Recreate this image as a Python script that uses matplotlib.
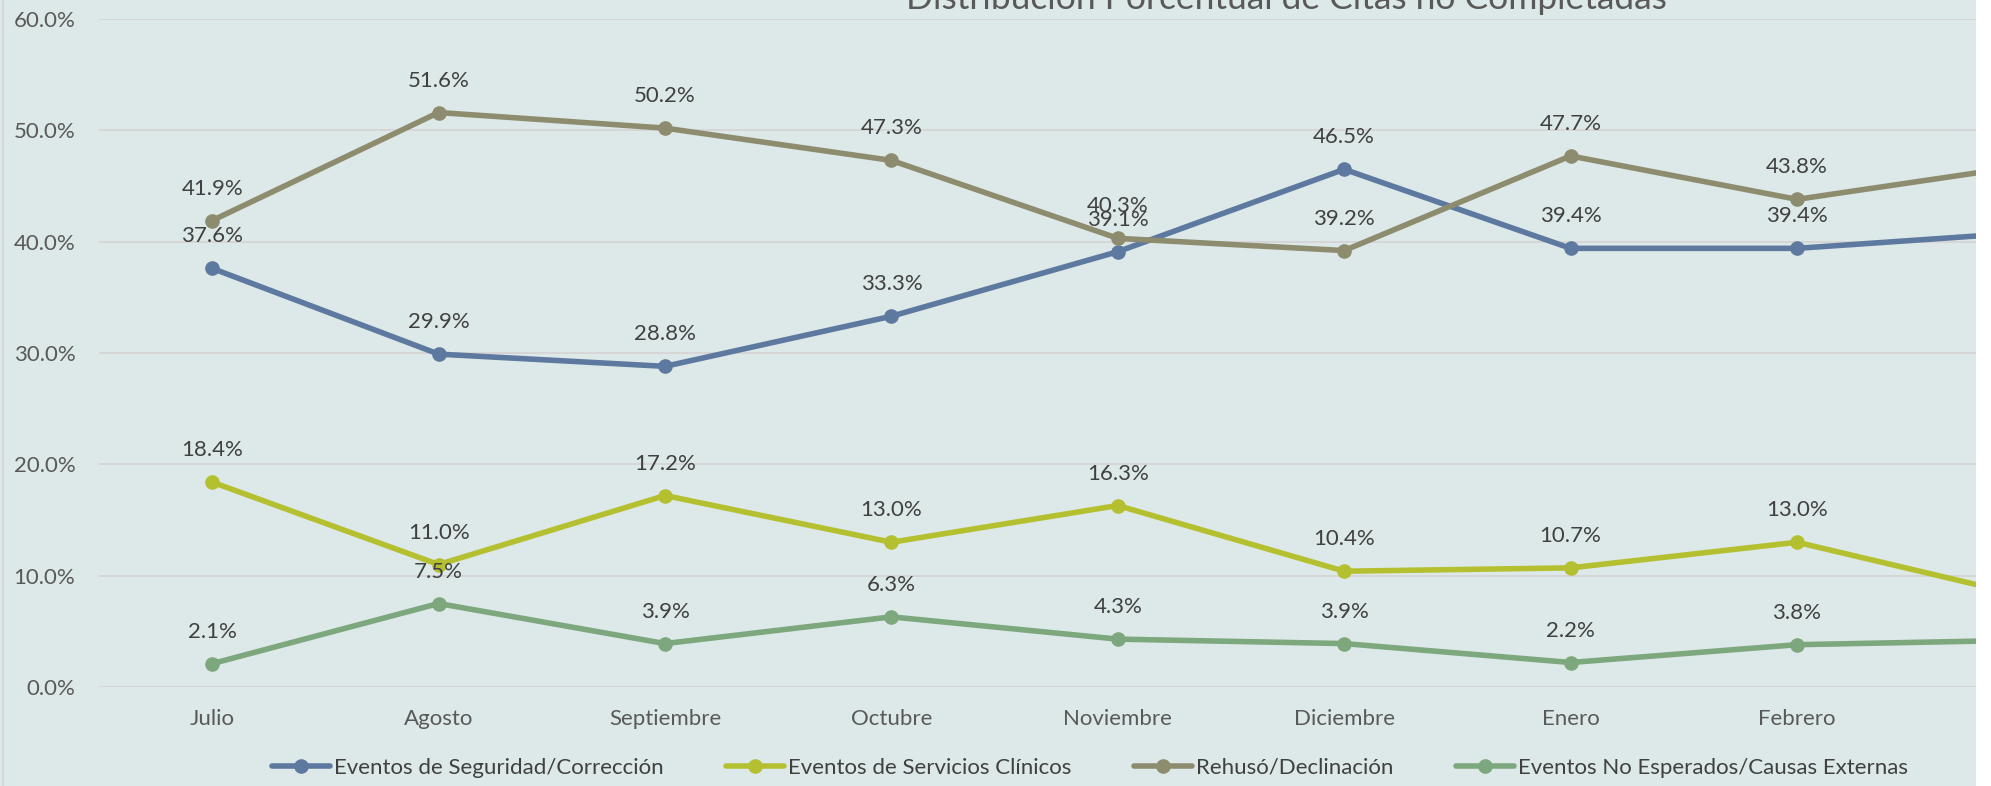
import matplotlib
matplotlib.use("Agg")
import matplotlib.pyplot as plt
from matplotlib.patches import Rectangle
from matplotlib.lines import Line2D

months = ["Julio", "Agosto", "Septiembre", "Octubre", "Noviembre",
          "Diciembre", "Enero", "Febrero", "Marzo"]
seguridad = [37.6, 29.9, 28.8, 33.3, 39.1, 46.5, 39.4, 39.4, 40.8]
servicios = [18.4, 11.0, 17.2, 13.0, 16.3, 10.4, 10.7, 13.0, 8.2]
rehuso = [41.9, 51.6, 50.2, 47.3, 40.3, 39.2, 47.7, 43.8, 46.8]
externas = [2.1, 7.5, 3.9, 6.3, 4.3, 3.9, 2.2, 3.8, 4.2]
series_names = ["Eventos de Seguridad/Corrección", "Eventos de Servicios Clínicos",
                "Rehusó/Declinación", "Eventos No Esperados/Causas Externas"]
yticks = [0, 10, 20, 30, 40, 50, 60]
title = "Distribución Porcentual de Citas no Completadas"

colors = ["#5E79A0", "#B5C030", "#8E8C6E", "#7DA77D"]
BG = "#DCE9E8"
W, H = 1991, 786
FS = 16

plt.rcParams["font.family"] = ["Lato", "DejaVu Sans"]

fig = plt.figure(figsize=(W / 100, H / 100), dpi=100, facecolor="white")

# chart area background
fig.patches.append(Rectangle((0, 0), 1976 / W, 1, transform=fig.transFigure,
                             facecolor=BG, edgecolor="none", zorder=-10))
fig.lines.append(Line2D([3 / W, 3 / W], [0, 1], transform=fig.transFigure,
                        color="#D5D8D8", lw=1.5, zorder=-5))

left = 99 / W
right = (99 + 9 * 226.4) / W
bottom = (H - 687) / H
top = (H - 19) / H
ax = fig.add_axes([left, bottom, right - left, top - bottom])
ax.set_facecolor("none")

x = list(range(len(months)))
data = [seguridad, servicios, rehuso, externas]
n_visible = 8  # the last month lies beyond the cropped edge
for vals, c, name in zip(data, colors, series_names):
    ax.plot(x, vals, color=c, lw=4.0, marker="o", markersize=9.5,
            solid_capstyle="round", label=name, zorder=3)
    for xi, v in list(zip(x, vals))[:n_visible]:
        ax.annotate(f"{v:.1f}%", (xi, v), xytext=(0, 23), textcoords="offset points",
                    ha="center", va="center", fontsize=FS, color="#404040", zorder=5)

ax.set_xlim(-0.5, len(months) - 0.5)
ax.set_ylim(0, 60)
ax.set_yticks(yticks)
ax.set_yticklabels([f"{t:.1f}%" for t in yticks])
ax.set_xticks(x[:n_visible])
ax.set_xticklabels(months[:n_visible])
ax.grid(axis="y", color="#D6D6D6", lw=1.4, zorder=0)
ax.set_axisbelow(True)
for s in ax.spines.values():
    s.set_visible(False)
ax.tick_params(axis="both", length=0, labelsize=FS, labelcolor="#595959")
ax.tick_params(axis="y", pad=17)
ax.tick_params(axis="x", pad=16)

# right white strip (cropped screenshot)
fig.patches.append(Rectangle((1976 / W, 0), 1 - 1976 / W, 1, transform=fig.transFigure,
                             facecolor="white", edgecolor="none", zorder=20))

fig.text(1286 / W, 1 - 9 / H, title, ha="center", va="baseline",
         fontsize=25.5, color="#595959", zorder=25)

handles, labels = ax.get_legend_handles_labels()
leg = fig.legend(handles, labels, loc="center", bbox_to_anchor=(1090 / W, 1 - 768 / H),
                 ncol=4, frameon=False, fontsize=FS, handlelength=2.6,
                 handletextpad=0.2, columnspacing=2.8, labelcolor="#404040")

fig.savefig("out.png", dpi=100, facecolor="white")
